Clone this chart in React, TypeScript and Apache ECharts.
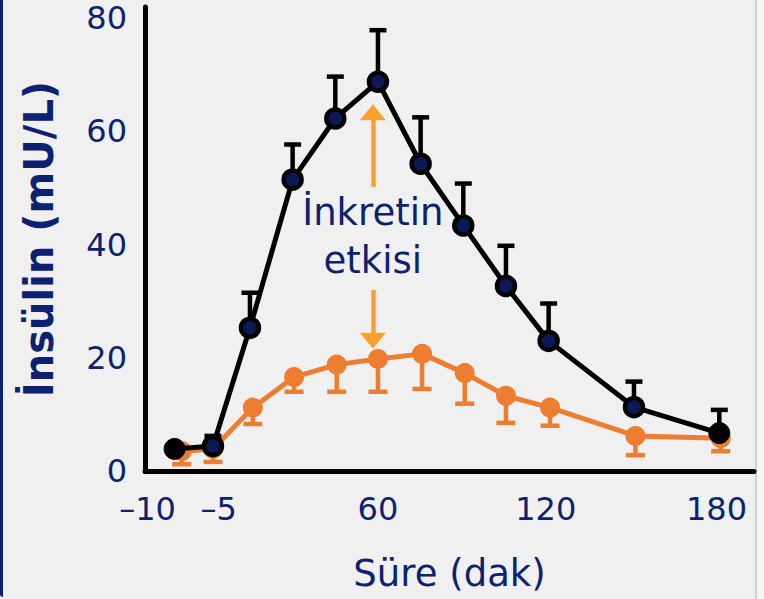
import React, { useEffect, useRef } from "react";
import * as echarts from "echarts";

// plotted time positions (min) as drawn on the original slide axis
const blackX = [-11.5, 2, 15, 30, 45, 60, 75, 90, 105, 120, 150, 180];
const orangeX = [-9, 2, 16, 30.5, 45.5, 60, 75.5, 90.5, 105, 120.5, 150.5, 180.5];
const blackVals = [3.9, 4.4, 25.3, 51.5, 62.3, 68.8, 54.3, 43.4, 32.7, 23.0, 11.3, 6.7];
const blackErrTop = [3.9, 6.2, 31.5, 57.7, 69.7, 77.9, 62.5, 50.8, 39.8, 29.6, 15.8, 10.8];
const orangeVals = [3.5, 3.9, 11.2, 16.6, 18.8, 19.8, 20.7, 17.3, 13.3, 11.2, 6.2, 5.8];
const orangeErrBottom = [1.2, 1.6, 8.3, 14.0, 14.0, 14.0, 14.5, 11.9, 8.5, 8.0, 2.8, 3.5];
const xTickPositions = [-21, 4, 60, 119, 179];
const xTickLabels = ["–10", "–5", "60", "120", "180"];
const yTicks = [0, 20, 40, 60, 80];

const NAVY = "#0c2270";
const ORANGE = "#ED7D31";
const ARROW = "#F9A12C";
const FONT = "DejaVu Sans";

const errRender = (capW: number, color: string) => (params: any, api: any) => {
  const x = api.value(0);
  const v = api.value(1);
  const e = api.value(2);
  if (v === e) return { type: "group", children: [] };
  const p1 = api.coord([x, v]);
  const p2 = api.coord([x, e]);
  return {
    type: "group",
    children: [
      { type: "line", shape: { x1: p1[0], y1: p1[1], x2: p2[0], y2: p2[1] }, style: { stroke: color, lineWidth: 4.5 } },
      { type: "line", shape: { x1: p2[0] - capW / 2, y1: p2[1], x2: p2[0] + capW / 2, y2: p2[1] }, style: { stroke: color, lineWidth: 4.5 } },
    ],
  };
};

export default function App() {
  const ref = useRef<HTMLDivElement>(null);
  useEffect(() => {
    if (!ref.current) return;
    const chart = echarts.init(ref.current, null, { renderer: "svg" });
    const blackData = blackX.map((x, i) => {
      const edge = i === 0 || i === blackX.length - 1;
      return {
        value: [x, blackVals[i]],
        symbolSize: edge ? 21 : 18,
        itemStyle: edge ? { color: "#000", borderColor: "#000", borderWidth: 1 } : undefined,
      };
    });
    chart.setOption({
      animation: false,
      backgroundColor: "transparent",
      grid: { left: 145, right: 10, top: 7, bottom: 128 },
      xAxis: {
        type: "value",
        min: -21.9,
        max: 192.2,
        axisLine: { show: true, onZero: false, lineStyle: { color: "#000", width: 5 } },
        axisTick: { show: false },
        splitLine: { show: false },
        axisLabel: {
          customValues: xTickPositions,
          formatter: (v: number) => {
            const i = xTickPositions.indexOf(v);
            return i >= 0 ? xTickLabels[i] : "";
          },
          color: NAVY,
          fontSize: 32,
          fontFamily: FONT,
          margin: 22,
        },
        name: "Süre (dak)",
        nameLocation: "middle",
        nameGap: 84,
        nameTextStyle: { color: NAVY, fontSize: 37, fontFamily: FONT },
      },
      yAxis: {
        type: "value",
        min: 0,
        max: 82,
        axisLine: { show: true, onZero: false, lineStyle: { color: "#000", width: 5 } },
        axisTick: { show: false },
        splitLine: { show: false },
        axisLabel: {
          customValues: yTicks,
          color: NAVY,
          fontSize: 32,
          fontFamily: FONT,
          margin: 18,
        },
        name: "İnsülin (mU/L)",
        nameLocation: "middle",
        nameGap: 86,
        nameTextStyle: { color: NAVY, fontSize: 40, fontWeight: "bold", fontFamily: FONT },
      },
      series: [
        {
          type: "custom",
          renderItem: errRender(19, ORANGE),
          data: orangeX.map((x, i) => [x, orangeVals[i], orangeErrBottom[i]]),
          encode: { x: 0, y: 1 },
          z: 2,
        },
        {
          type: "line",
          data: orangeX.map((x, i) => [x, orangeVals[i]]),
          symbol: "circle",
          symbolSize: 20,
          lineStyle: { color: ORANGE, width: 5 },
          itemStyle: { color: ORANGE },
          z: 3,
          markLine: {
            silent: true,
            symbol: ["none", "triangle"],
            symbolSize: [26, 16],
            label: { show: false },
            lineStyle: { color: ARROW, width: 4.5, type: "solid" },
            data: [
              [{ coord: [58.2, 50.2] }, { coord: [58.2, 63.4] }],
              [{ coord: [58.2, 32] }, { coord: [58.2, 23.0] }],
            ],
          },
        },
        {
          type: "custom",
          renderItem: errRender(17, "#000"),
          data: blackX.map((x, i) => [x, blackVals[i], blackErrTop[i]]),
          encode: { x: 0, y: 1 },
          z: 4,
        },
        {
          type: "line",
          data: blackData,
          symbol: "circle",
          symbolSize: 18,
          lineStyle: { color: "#000", width: 5 },
          itemStyle: { color: "#0b1a55", borderColor: "#000", borderWidth: 4.5 },
          z: 5,
        },
      ],
    });
    const c = chart.convertToPixel({ gridIndex: 0 } as any, [58.2, 41.5]) as number[];
    chart.setOption({
      graphic: [
        {
          type: "text",
          x: c[0],
          y: c[1],
          style: {
            text: "İnkretin\netkisi",
            fill: NAVY,
            font: `37px "${FONT}"`,
            align: "center",
            verticalAlign: "middle",
            lineHeight: 48,
          },
          z: 10,
        },
      ],
    });
    return () => chart.dispose();
  }, []);
  return (
    <div style={{ position: "fixed", left: 0, top: 0, width: 764, height: 599, background: "#f0f0f0", overflow: "hidden" }}>
      <div style={{ position: "absolute", left: 0, top: -10, width: 3, height: 607, background: "#0c2270", borderBottomLeftRadius: 6 }} />
      <div style={{ position: "absolute", left: 755, top: 0, width: 9, height: 599, background: "#f6f6f6", borderLeft: "2px solid #d2d2d2" }} />
      <div ref={ref} style={{ position: "absolute", left: 0, top: 0, width: 764, height: 599 }} />
    </div>
  );
}
